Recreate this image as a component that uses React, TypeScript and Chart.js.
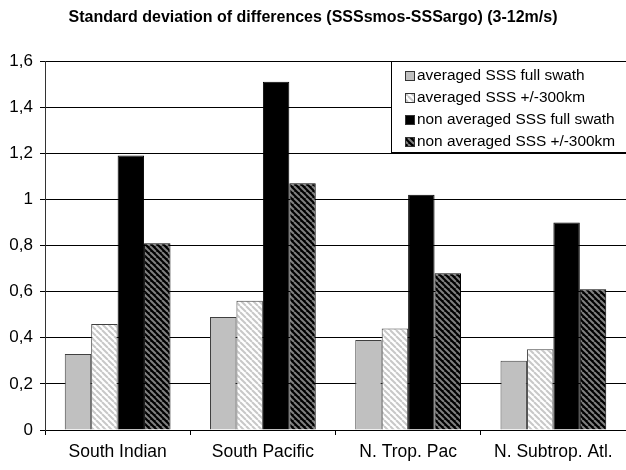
import React, { useEffect, useRef } from "react";
import { Chart, registerables } from "chart.js";

Chart.register(...registerables);

const categories = ["South Indian", "South Pacific", "N. Trop. Pac", "N. Subtrop. Atl."];
const seriesLabels = [
  "averaged SSS full swath",
  "averaged SSS +/-300km",
  "non averaged SSS full swath",
  "non averaged SSS +/-300km",
];
const avgFull = [0.33, 0.49, 0.39, 0.3];
const avg300 = [0.46, 0.56, 0.44, 0.35];
const nonAvgFull = [1.19, 1.51, 1.02, 0.9];
const nonAvg300 = [0.81, 1.07, 0.68, 0.61];
const yTicks = [0, 0.2, 0.4, 0.6, 0.8, 1, 1.2, 1.4, 1.6];
const titleText = "Standard deviation of differences (SSSsmos-SSSargo) (3-12m/s)";

const FONT = '"Liberation Sans", Arial, Helvetica, sans-serif';

function makeHatch(bg: string, fg: string): CanvasPattern | string {
  const s = 6;
  const c = document.createElement("canvas");
  c.width = s;
  c.height = s;
  const g = c.getContext("2d");
  if (!g) return bg;
  g.fillStyle = bg;
  g.fillRect(0, 0, s, s);
  g.strokeStyle = fg;
  g.lineWidth = 2;
  for (const x0 of [-s, 0, s]) {
    g.beginPath();
    g.moveTo(x0, 0);
    g.lineTo(x0 + s, s);
    g.stroke();
  }
  const p = g.createPattern(c, "repeat");
  return p || bg;
}

const boxLegend = {
  id: "boxLegend",
  afterDraw(chart: any) {
    const ctx = chart.ctx as CanvasRenderingContext2D;
    const x0 = 391;
    const y0 = 61;
    const x1 = chart.width;
    const y1 = 153;
    ctx.save();
    ctx.fillStyle = "#ffffff";
    ctx.fillRect(x0, y0, x1 - x0, y1 - y0);
    ctx.strokeStyle = "#000000";
    ctx.lineWidth = 1;
    ctx.strokeRect(x0 + 0.5, y0 + 0.5, x1 - x0, y1 - y0 - 1);
    ctx.font = `15.4px ${FONT}`;
    ctx.textBaseline = "middle";
    ctx.textAlign = "left";
    chart.data.datasets.forEach((ds: any, i: number) => {
      const cy = 76 + i * 22;
      ctx.fillStyle = ds.backgroundColor;
      ctx.fillRect(405, cy - 5, 10, 10);
      ctx.strokeStyle = "#333333";
      ctx.strokeRect(405.5, cy - 4.5, 9, 9);
      ctx.fillStyle = "#000000";
      ctx.fillText(ds.label, 417, cy);
    });
    ctx.restore();
  },
};

export default function App() {
  const ref = useRef<HTMLCanvasElement | null>(null);

  useEffect(() => {
    document.body.style.margin = "0";
    if (!ref.current) return;
    const lightHatch = makeHatch("#ffffff", "#c8c8c8");
    const darkHatch = makeHatch("#000000", "#808080");
    const common = {
      categoryPercentage: 0.728,
      barPercentage: 1,
      borderWidth: 1,
      borderSkipped: "bottom" as const,
    };
    const chart = new Chart(ref.current, {
      type: "bar",
      data: {
        labels: categories,
        datasets: [
          { label: seriesLabels[0], data: avgFull, backgroundColor: "#c0c0c0", borderColor: "#404040", ...common },
          { label: seriesLabels[1], data: avg300, backgroundColor: lightHatch as any, borderColor: "#404040", ...common },
          { label: seriesLabels[2], data: nonAvgFull, backgroundColor: "#000000", borderColor: "#000000", ...common },
          { label: seriesLabels[3], data: nonAvg300, backgroundColor: darkHatch as any, borderColor: "#000000", ...common },
        ],
      },
      options: {
        animation: false,
        responsive: true,
        maintainAspectRatio: false,
        devicePixelRatio: 1,
        layout: { padding: { top: 0, right: 0, bottom: 0, left: 0 } },
        plugins: {
          legend: { display: false },
          tooltip: { enabled: false },
          title: {
            display: true,
            text: titleText,
            color: "#000000",
            font: { family: FONT, size: 16, weight: "bold" },
            padding: { top: 8, bottom: 33.8 },
          },
        },
        scales: {
          x: {
            afterFit(scale: any) {
              scale.height = 40;
            },
            grid: { drawOnChartArea: false, drawTicks: true, tickLength: 5, color: "#000000", offset: true },
            border: { display: true, color: "#000000", width: 1 },
            ticks: { color: "#000000", font: { family: FONT, size: 17.5 }, padding: 7, maxRotation: 0, autoSkip: false },
          },
          y: {
            min: 0,
            max: 1.6,
            afterFit(scale: any) {
              scale.width = 45;
            },
            afterBuildTicks(scale: any) {
              scale.ticks = yTicks.map((v) => ({ value: v }));
            },
            grid: { color: "#000000", lineWidth: 1, tickLength: 5, drawTicks: true },
            border: { display: true, color: "#333333", width: 1 },
            ticks: {
              color: "#000000",
              font: { family: FONT, size: 17 },
              padding: 7,
              callback: (v: any) => String(Math.round(Number(v) * 10) / 10).replace(".", ","),
            },
          },
        },
      },
      plugins: [boxLegend],
    });
    return () => chart.destroy();
  }, []);

  return (
    <div style={{ width: 626, height: 470, position: "relative" }}>
      <canvas ref={ref} />
    </div>
  );
}
